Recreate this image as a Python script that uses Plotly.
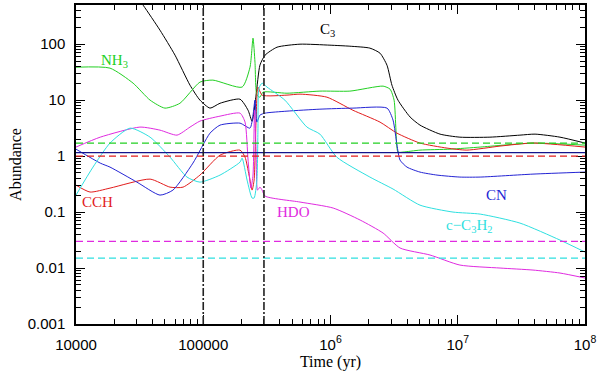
import plotly.graph_objects as go

# time grid and abundances (log-log axes)
c3_t = [2.43e4, 3.37e4, 4.57e4, 6.0e4, 7.87e4, 9.42e4, 1.13e5, 1.355e5, 1.945e5, 2.25e5, 2.42e5, 2.6e5, 2.79e5,
        3.06e5, 3.8e5, 5.76e5, 9.9e5, 1.42e6, 2.04e6, 2.45e6, 2.78e6, 3.04e6, 3.39e6, 4.22e6, 5.05e6, 7.26e6,
        1.04e7, 1.79e7, 3.08e7, 4.05e7, 6.36e7, 1e8]
c3_v = [1380, 497, 178, 63.6, 18.5, 10, 7.2, 8.8, 10.4, 6.6, 4.2, 12.3, 42.2,
        63.6, 88.3, 100, 96, 92, 85, 69, 42, 18.5, 10, 5.0, 3.58, 2.47,
        2.18, 2.18, 2.37, 2.47, 2.18, 1.71]

nh3_t = [1e4, 1.85e4, 2.81e4, 3.82e4, 5.0e4, 6.56e4, 9.42e4, 1.19e5, 2.02e5, 2.33e5, 2.46e5, 2.55e5, 2.64e5,
         2.79e5, 2.95e5, 4.55e5, 8.26e5, 1.42e6, 2.59e6, 2.94e6, 3.16e6, 3.27e6, 3.39e6, 3.71e6, 5.05e6,
         8.69e6, 1.5e7, 3.9e7, 1e8]
nh3_v = [38.8, 37.3, 20.1, 10, 7.2, 8.8, 21, 22.8, 17.1, 38.8, 128, 47.7, 12.3,
         11.3, 13.9, 13.3, 14.5, 14.5, 17.8, 15.7, 10, 2.91, 1.18, 1.18, 1.28,
         1.33, 1.45, 1.71, 1.57]

cch_t = [1e4, 1.29e4, 1.85e4, 3.82e4, 5.48e4, 6.94e4, 9.42e4, 1.355e5, 1.945e5, 2.13e5, 2.29e5, 2.42e5, 2.51e5,
         2.6e5, 2.69e5, 2.9e5, 4.55e5, 5.76e5, 9.37e5, 1.5e6, 2.45e6, 3.33e6, 5.05e6, 8.24e6, 1.18e7, 2.15e7,
         3.9e7, 1e8]
cch_v = [0.303, 0.228, 0.268, 0.388, 0.279, 0.279, 0.458, 1.04, 1.28, 0.96, 0.458, 0.247, 0.373,
         4.4, 17.1, 12.3, 12.3, 12.8, 11.3, 6.6, 4.05, 2.57, 1.71, 1.39, 1.28, 1.51,
         1.71, 1.45]

cn_t = [1e4, 1.55e4, 1.85e4, 3.01e4, 4.57e4, 5.78e4, 8.3e4, 1.13e5, 1.355e5, 1.945e5, 2.33e5, 2.46e5, 2.55e5,
        2.64e5, 2.79e5, 3.06e5, 4.55e5, 8.26e5, 1.5e6, 2.78e6, 3.1e6, 3.33e6, 3.52e6, 3.99e6, 5.05e6, 6.87e6,
        1.04e7, 1.5e7, 3.9e7, 1e8]
cn_v = [1.33, 0.75, 0.636, 0.343, 0.201, 0.247, 0.75, 2.57, 3.58, 3.88, 3.16, 5.4, 10,
        4.05, 5.4, 5.86, 6.36, 6.9, 7.2, 7.2, 4.4, 1.57, 0.848, 0.636, 0.518, 0.458,
        0.422, 0.422, 0.477, 0.518]

hdo_t = [1e4, 1.55e4, 3.18e4, 4.57e4, 6.22e4, 7.87e4, 9.42e4, 1.355e5, 1.945e5, 2.13e5, 2.25e5, 2.37e5, 2.46e5,
         2.53e5, 2.6e5, 2.67e5, 2.79e5, 2.9e5, 3.06e5, 5.76e5, 1.05e6, 1.71e6, 2.59e6, 3.52e6, 6.05e6, 1.04e7,
         2.15e7, 3.9e7, 6.36e7, 1e8]
hdo_v = [1.45, 2.18, 3.3, 2.91, 2.37, 3.3, 4.22, 5.18, 5.86, 4.05, 0.848, 0.268, 0.458,
         6.6, 1.28, 0.247, 0.279, 0.247, 0.193, 0.151, 0.118, 0.072, 0.0422, 0.0228, 0.0171, 0.0113,
         0.01, 0.0092, 0.00814, 0.00663]

cc3h2_t = [1e4, 1.36e4, 1.85e4, 2.66e4, 3.82e4, 5.48e4, 7.45e4, 9.42e4, 1.355e5, 1.945e5, 2.02e5, 2.21e5, 2.42e5,
           2.51e5, 2.64e5, 2.69e5, 2.74e5, 2.9e5, 3.17e5, 4.38e5, 6.53e5, 8.26e5, 1.12e6, 2.04e6, 3.1e6, 5.05e6,
           9.18e6, 1.5e7, 3.08e7, 6.36e7, 1e8]
cc3h2_v = [0.201, 0.636, 1.71, 3.16, 2.18, 0.96, 0.422, 0.343, 0.458, 0.78, 0.92, 0.373, 0.178,
           0.178, 0.373, 2.91, 16.4, 20.1, 17.1, 10, 3.3, 2.47, 0.96, 0.422, 0.258, 0.133,
           0.1, 0.092, 0.0636, 0.0316, 0.0193]

# observed reference levels (horizontal lines) and marked epochs
obs_nh3 = 1.7
obs_cn = 1.15
obs_cch = 1.0
obs_hdo = 0.03
obs_cc3h2 = 0.015
epochs = [1e5, 3e5]

GREEN = "#22d022"
RED = "#e21c1c"
BLUE = "#2424d4"
MAGENTA = "#e02ae0"
CYAN = "#2ee0e0"
NAVY = "#14148c"

fig = go.Figure()

series = [
    (c3_t, c3_v, "black"),
    (nh3_t, nh3_v, GREEN),
    (cch_t, cch_v, RED),
    (cn_t, cn_v, BLUE),
    (hdo_t, hdo_v, MAGENTA),
    (cc3h2_t, cc3h2_v, CYAN),
]
for t, v, col in series:
    fig.add_trace(go.Scatter(x=t, y=v, mode="lines", line=dict(color=col, width=1, shape="spline", smoothing=0.6),
                             showlegend=False, hoverinfo="skip"))

dash = "7px,4px"
for val, col, d in [(obs_nh3, GREEN, dash), (obs_cn, NAVY, "solid"), (obs_cch, RED, dash),
                    (obs_hdo, MAGENTA, dash), (obs_cc3h2, CYAN, dash)]:
    fig.add_hline(y=val, line=dict(color=col, width=1.2, dash=d))

for e in epochs:
    fig.add_vline(x=e, line=dict(color="#222222", width=1.6, dash="8px,2px,2px,2px"))

serif = "Liberation Serif"
labels = [
    (5.98, 2.25, "C<sub>3</sub>", "black"),
    (4.30, 1.70, "NH<sub>3</sub>", GREEN),
    (4.165, -0.82, "CCH", RED),
    (5.713, -1.0, "HDO", MAGENTA),
    (7.308, -0.70, "CN", BLUE),
    (7.088, -1.25, "c\u2212C<sub>3</sub>H<sub>2</sub>", CYAN),
]
for x, y, txt, col in labels:
    fig.add_annotation(x=x, y=y, text=txt, showarrow=False, font=dict(family=serif, size=15, color=col))

axis_common = dict(
    type="log", showgrid=False, zeroline=False, showline=True, linecolor="black", linewidth=1.5,
    mirror="allticks", ticks="inside", ticklen=9, tickwidth=1, tickcolor="black",
    minor=dict(ticks="inside", ticklen=5, tickcolor="black", dtick="D1", showgrid=False),
    tickfont=dict(family="Liberation Sans", size=15, color="black"),
    automargin=False, ticklabelstandoff=6,
)

fig.update_xaxes(
    **axis_common, range=[4, 8],
    tickvals=[1e4, 1e5, 1e6, 1e7, 1e8],
    ticktext=["10000", "100000", "10<sup>6</sup>", "10<sup>7</sup>", "10<sup>8</sup>"],
    title=dict(text="Time (yr)", font=dict(family=serif, size=16, color="black"), standoff=2),
)
fig.update_yaxes(
    **axis_common, range=[-3, 2.7],
    tickvals=[0.001, 0.01, 0.1, 1, 10, 100],
    ticktext=["0.001", "0.01", "0.1", "1", "10", "100"],
    title=dict(text="Abundance", font=dict(family=serif, size=16, color="black"), standoff=2),
)

fig.update_layout(
    width=600, height=372,
    margin=dict(l=76, r=15, t=5, b=48),
    plot_bgcolor="white", paper_bgcolor="white",
)

fig.write_html("out.html", config={"displayModeBar": False},
               post_script="document.body.style.margin='0';")
